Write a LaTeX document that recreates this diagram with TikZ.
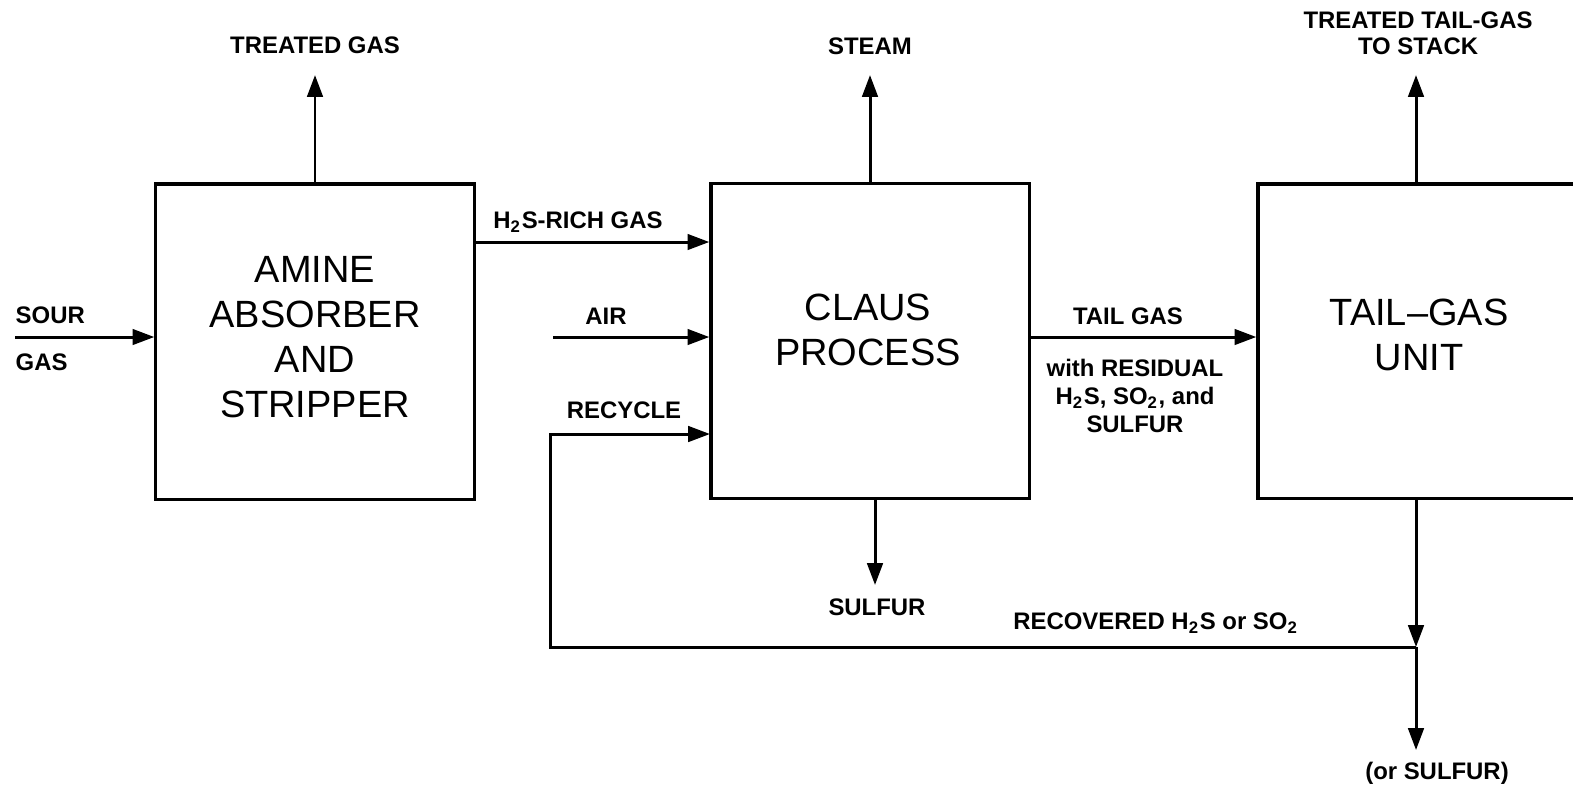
\documentclass[tikz,border=0pt]{standalone}
\usepackage{fontspec}
\setmainfont{Liberation Sans}
\usetikzlibrary{arrows.meta}
\begin{document}
\begin{tikzpicture}[x=0.01cm,y=-0.01cm,
  unitbox/.style={draw,line width=0.9pt,minimum width=3.18cm,minimum height=3.15cm,inner sep=0pt},
  boxtext/.style={font=\fontsize{10.8}{12.8}\selectfont,align=center},
  lbl/.style={font=\bfseries\fontsize{6.8}{7.5}\selectfont,inner sep=0pt,align=center},
  flow/.style={line width=0.85pt,-{Triangle[length=6.2pt,width=4.4pt]}},
  plain/.style={line width=0.85pt}]
\useasboundingbox (0,0) rectangle (1573,793);
\clip (0,0) rectangle (1573,793);
% boxes
\node[unitbox] (amine) at (315,341.5) {};
\node[unitbox] (claus) at (870,341) {};
\node[unitbox,minimum width=3.22cm,minimum height=3.14cm] (tgu) at (1419,341) {};
% box texts
\node[boxtext] (aminetxt) at (315,337) {AMINE\\ABSORBER\\AND\\STRIPPER};
\node[boxtext] (claustxt) at (868,330) {CLAUS\\PROCESS};
\node[boxtext] (tgutxt) at (1419,335) {TAIL--GAS\\UNIT};
% coordinates
\coordinate (sourin) at (15,337);
\coordinate (treatedtop) at (315,75);
\coordinate (airin) at (553,337);
\coordinate (steamtop) at (870,75);
\coordinate (sulfurbot) at (875,585);
\coordinate (stacktop) at (1416,75);
\coordinate (junction) at (1416,647);
\coordinate (orsulfurbot) at (1416,750);
\coordinate (recyclecorner) at (550,647);
\coordinate (recycleend) at (710,434);
% labels
\node[lbl,anchor=west] (sour) at (15,315) {SOUR};
\node[lbl,anchor=west] (gas) at (15,362) {GAS};
\node[lbl] (treated) at (315,45) {TREATED GAS};
\node[lbl] (h2s) at (578,222) {H\textsubscript{2}S-RICH GAS};
\node[lbl] (air) at (606,316) {AIR};
\node[lbl] (recycle) at (624,410) {RECYCLE};
\node[lbl] (steam) at (870,46) {STEAM};
\node[lbl] (sulfur) at (877,607) {SULFUR};
\node[lbl] (tailgas) at (1128,316) {TAIL GAS};
\node[lbl,align=center,font=\bfseries\fontsize{6.8}{8}\selectfont] (residual) at (1135,396) {with RESIDUAL\\H\textsubscript{2}S, SO\textsubscript{2}, and\\SULFUR};
\node[lbl,align=center,font=\bfseries\fontsize{6.8}{7.4}\selectfont] (stack) at (1418,33) {TREATED TAIL-GAS\\TO STACK};
\node[lbl] (recovered) at (1156,623) {RECOVERED H\textsubscript{2}S or SO\textsubscript{2}};
\node[lbl] (orsulfur) at (1437,773) {(or SULFUR)};
% connectors
\draw[flow] (sourin) -- (sourin -| amine.west);
\draw[flow] (amine.north) -- (treatedtop);
\draw[flow] (amine.east |- 0,242) -- (claus.west |- 0,242);
\draw[flow] (airin) -- (airin -| claus.west);
\draw[flow] (claus.north) -- (steamtop);
\draw[flow] (sulfurbot |- claus.south) -- (sulfurbot);
\draw[flow] (claus.east |- 0,337) -- (tgu.west |- 0,337);
\draw[flow] (stacktop |- tgu.north) -- (stacktop);
\draw[flow] (junction |- tgu.south) -- (junction);
\draw[flow] (junction) -- (orsulfurbot);
\draw[flow] (junction) -- (recyclecorner) |- (recycleend);
\end{tikzpicture}
\end{document}
